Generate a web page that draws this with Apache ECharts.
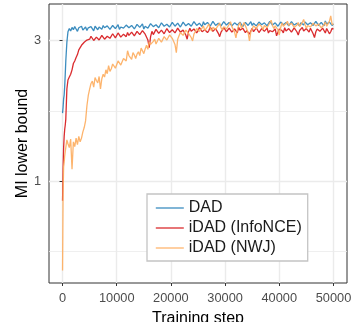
<!DOCTYPE html>
<html><head><meta charset="utf-8">
<script src="https://cdn.jsdelivr.net/npm/echarts@6/dist/echarts.min.js"></script>
<style>html,body{margin:0;padding:0;background:#fff}#c{width:352px;height:322px}</style>
</head><body><div id="c"></div>
<script>
const steps = [0,100,200,300,400,500,600,800,1000,1250,1500,1750,2000,2250,2500,2750,3000,3250,3500,3750,4000,4250,4500,4750,
5000,5250,5500,5750,6000,6250,6500,6750,7000,7250,7500,7750,8000,8250,8500,8750,9000,9250,9500,9750,
10000,10250,10500,10750,11000,11250,11500,11750,12000,12250,12500,12750,13000,13250,13500,13750,14000,14250,14500,14750,
15000,15250,15500,15750,16000,16250,16500,16750,17000,17250,17500,17750,18000,18250,18500,18750,19000,19250,19500,19750,
20000,20250,20500,20750,21000,21250,21500,21750,22000,22250,22500,22750,23000,23250,23500,23750,24000,24250,24500,24750,
25000,25250,25500,25750,26000,26250,26500,26750,27000,27250,27500,27750,28000,28250,28500,28750,29000,29250,29500,29750,
30000,30250,30500,30750,31000,31250,31500,31750,32000,32250,32500,32750,33000,33250,33500,33750,34000,34250,34500,34750,
35000,35250,35500,35750,36000,36250,36500,36750,37000,37250,37500,37750,38000,38250,38500,38750,39000,39250,39500,39750,
40000,40250,40500,40750,41000,41250,41500,41750,42000,42250,42500,42750,43000,43250,43500,43750,44000,44250,44500,44750,
45000,45250,45500,45750,46000,46250,46500,46750,47000,47250,47500,47750,48000,48250,48500,48750,49000,49250,49500,49750,
50000];

const dad = [1.70,1.78,1.90,1.96,2.10,2.30,2.55,2.95,3.20,3.28,3.22,3.31,3.25,3.33,3.27,3.21,3.30,3.26,3.34,3.24,3.29,3.32,3.23,3.30,
3.27,3.33,3.28,3.22,3.34,3.29,3.25,3.32,3.31,3.26,3.36,3.30,3.27,3.35,3.33,3.26,3.29,3.36,3.37,3.28,
3.30,3.38,3.26,3.32,3.35,3.29,3.31,3.37,3.39,3.30,3.28,3.36,3.34,3.27,3.30,3.39,3.38,3.31,3.33,3.40,
3.27,3.34,3.36,3.29,3.32,3.41,3.40,3.33,3.31,3.38,3.37,3.30,3.34,3.43,3.42,3.34,3.30,3.39,3.38,3.32,
3.35,3.44,3.41,3.34,3.33,3.42,3.39,3.32,3.36,3.45,3.44,3.35,3.32,3.41,3.40,3.34,3.37,3.46,3.43,3.36,
3.34,3.42,3.39,3.33,3.46,3.38,3.35,3.44,3.41,3.34,3.38,3.47,3.44,3.36,3.33,3.42,3.40,3.35,3.37,3.46,
3.45,3.37,3.36,3.44,3.42,3.35,3.34,3.43,3.47,3.37,3.38,3.45,3.41,3.33,3.35,3.44,3.44,3.36,3.39,3.46,
3.36,3.42,3.43,3.35,3.37,3.45,3.46,3.38,3.34,3.43,3.41,3.35,3.38,3.47,3.44,3.37,3.35,3.43,3.42,3.34,
3.39,3.45,3.47,3.38,3.36,3.44,3.41,3.35,3.38,3.46,3.45,3.37,3.34,3.42,3.40,3.35,3.43,3.38,3.37,3.45,
3.46,3.38,3.35,3.43,3.42,3.36,3.39,3.47,3.44,3.36,3.36,3.44,3.41,3.35,3.48,3.40,3.37,3.45,3.43,3.36,
3.40];

const infonce = [0.86,1.10,1.30,1.42,1.50,1.55,1.62,2.05,2.20,2.25,2.30,2.38,2.50,2.55,2.62,2.68,2.78,2.80,2.88,2.84,2.95,2.92,3.00,2.96,
3.02,3.09,3.05,2.99,2.98,3.07,3.08,3.00,3.03,3.11,3.10,3.02,3.01,3.09,3.12,3.04,3.06,3.15,3.14,3.05,
3.08,3.17,3.16,3.07,3.04,3.14,3.13,3.08,3.18,3.11,3.09,3.19,3.20,3.10,3.12,3.21,3.22,3.13,3.15,3.23,
3.24,3.14,3.11,3.00,2.83,3.08,3.21,3.13,3.17,3.26,3.25,3.16,3.14,3.24,3.23,3.15,3.19,3.28,3.27,3.18,
3.16,3.25,3.24,3.17,3.20,3.29,3.28,3.19,3.15,3.24,3.26,3.12,3.02,3.20,3.29,3.21,3.18,3.27,3.25,3.17,
3.22,3.31,3.30,3.20,3.17,3.25,3.26,3.18,3.23,3.32,3.31,3.21,3.19,3.28,3.27,3.16,3.08,3.19,3.24,3.31,
3.30,3.20,3.21,3.29,3.28,3.19,3.18,3.27,3.25,3.17,3.31,3.24,3.20,3.29,3.27,3.18,3.23,3.26,3.14,3.22,
3.29,3.20,3.22,3.30,3.26,3.18,3.19,3.28,3.30,3.21,3.24,3.29,3.17,3.23,3.28,3.20,3.21,3.27,3.10,3.19,
3.27,3.30,3.23,3.17,3.30,3.22,3.18,3.28,3.25,3.19,3.21,3.30,3.29,3.20,3.12,3.23,3.26,3.31,3.22,3.18,
3.28,3.24,3.19,3.29,3.25,3.15,3.06,3.20,3.27,3.30,3.21,3.17,3.29,3.23,3.17,3.28,3.24,3.15,3.20,3.29,
3.26];

const nwj = [0.50,0.92,1.12,1.16,1.22,1.26,1.30,1.38,1.34,1.30,1.39,1.10,1.36,1.31,1.40,1.33,1.42,1.36,1.40,1.47,1.52,1.60,1.80,1.95,
2.05,2.14,2.18,2.08,2.24,2.19,2.15,2.26,2.05,2.22,2.30,2.25,2.38,2.31,2.46,2.35,2.40,2.49,2.52,2.41,
2.44,2.55,2.56,2.47,2.50,2.60,2.62,2.55,2.76,2.66,2.65,2.58,2.72,2.67,2.60,2.69,2.74,2.66,2.82,2.76,
2.70,2.80,2.88,2.79,2.95,2.90,2.86,2.97,3.02,2.91,2.93,3.04,3.05,2.95,2.98,3.08,3.10,3.00,3.03,3.12,
3.14,3.04,3.08,2.90,2.72,3.02,3.10,3.18,3.22,3.11,3.15,3.24,3.26,3.16,3.12,3.06,2.98,3.14,3.20,3.28,
3.32,3.21,3.18,3.29,3.35,3.23,3.25,3.33,3.40,3.29,3.22,3.31,3.36,3.26,3.28,3.37,3.43,3.30,3.24,3.33,
3.38,3.27,3.30,3.39,3.46,3.33,3.26,3.19,3.05,3.24,3.37,3.44,3.29,3.36,3.44,3.35,3.32,3.18,2.98,3.20,
3.27,3.35,3.39,3.28,3.31,3.40,3.45,3.33,3.25,3.36,3.41,3.30,3.34,3.43,3.50,3.36,3.28,3.35,3.38,3.25,
3.12,3.30,3.43,3.34,3.30,3.41,3.47,3.36,3.33,3.42,3.40,3.31,3.26,3.37,3.44,3.33,3.35,3.44,3.52,3.38,
3.29,3.36,3.41,3.32,3.33,3.42,3.46,3.35,3.31,3.40,3.39,3.30,3.27,3.38,3.45,3.34,3.36,3.47,3.62,3.38,
3.40];

const seriesNames = ['DAD','iDAD (InfoNCE)','iDAD (NWJ)'];
const seriesValues = [dad, infonce, nwj];
const colors = ['#2b83ba','#d7191c','#fdae61'];
const xTicks = [0,10000,20000,30000,40000,50000];
const yTicks = [1,3];
const yMinor = [0.57735,1.73205];

const FONT = 'Liberation Sans, Arial, sans-serif';
const chart = echarts.init(document.getElementById('c'), null, {renderer:'canvas'});

const series = seriesNames.map((n,i)=>({
  name:n, type:'line', data: steps.map((s,k)=>[s, seriesValues[i][k]]),
  showSymbol:false, symbol:'none', animation:false, z: 3+i,
  lineStyle:{color:colors[i], width:1.3, opacity:0.92}, itemStyle:{color:colors[i]}
}));
series.push({
  type:'line', data:[], silent:true, z:1,
  markLine:{silent:true, z:1, symbol:'none', animation:false, label:{show:false},
    lineStyle:{color:'#EBEBEB', width:0.8, type:'solid'},
    data: yMinor.map(v=>({yAxis:v}))}
});

chart.setOption({
  animation:false,
  backgroundColor:'#fff',
  grid:{left:49, right:5, top:4, bottom:39, show:true, borderColor:'#333', borderWidth:1, backgroundColor:'transparent', containLabel:false, outerBoundsMode:'none'},
  legend:{
    orient:'vertical', left:147, top:194, z:10,
    padding:[6,6,5,8], itemGap:4, itemWidth:28, itemHeight:16,
    backgroundColor:'#fff', borderColor:'#c4c4c4', borderWidth:1.3,
    textStyle:{fontFamily:FONT, fontSize:16, color:'#1a1a1a'},
    data: seriesNames.map((n,i)=>({name:n,
      itemStyle:{color:'rgba(0,0,0,0)', borderWidth:0, opacity:0},
      lineStyle:{color:colors[i], width:1.6, opacity:0.75}}))
  },
  xAxis:{
    type:'value', min:-2500, max:52500,
    name:'Training step', nameLocation:'middle', nameGap:28, nameMoveOverlap:false,
    nameTextStyle:{fontFamily:FONT, fontSize:16, color:'#000'},
    axisLine:{show:false},
    axisTick:{show:true, inside:false, length:3, lineStyle:{color:'#333', width:1}, customValues:xTicks},
    axisLabel:{margin:9, fontFamily:FONT, fontSize:12.8, color:'#4d4d4d', customValues:xTicks, formatter:v=>String(v)},
    splitLine:{show:true, lineStyle:{color:'#EBEBEB', width:1.4}}
  },
  yAxis:{
    type:'log', logBase:3, min:0.454, max:3.97,
    name:'MI lower bound', nameLocation:'middle', nameGap:18, nameRotate:90, nameMoveOverlap:false,
    nameTextStyle:{fontFamily:FONT, fontSize:16, color:'#000'},
    axisLine:{show:false},
    axisTick:{show:true, inside:false, length:3, lineStyle:{color:'#333', width:1}, customValues:yTicks},
    axisLabel:{margin:8, fontFamily:FONT, fontSize:12.8, color:'#4d4d4d', customValues:yTicks, formatter:v=>String(v)},
    splitLine:{show:true, lineStyle:{color:'#EBEBEB', width:1.4}}
  },
  series: series
});
</script></body></html>
